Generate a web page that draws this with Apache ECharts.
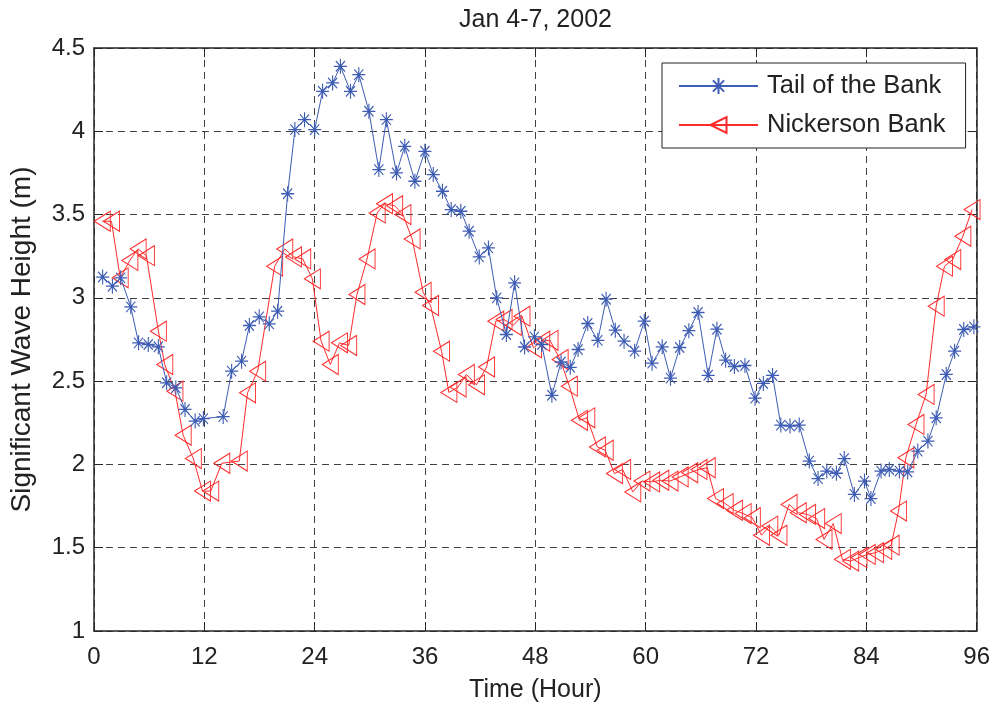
<!DOCTYPE html>
<html>
<head>
<meta charset="utf-8">
<script src="https://cdn.jsdelivr.net/npm/echarts@6/dist/echarts.min.js"></script>
<style>
html,body{margin:0;padding:0;background:#fff;}
#chart{width:993px;height:708px;}
</style>
</head>
<body>
<div id="chart"></div>
<script>
// ---- data ----
const titleText = "Jan 4-7, 2002";
const xAxisName = "Time (Hour)";
const yAxisName = "Significant Wave Height (m)";
const seriesNames = ["Tail of the Bank", "Nickerson Bank"];

const tailHours = [0.94,2.0,2.9,4.0,4.85,5.9,7.0,7.9,8.9,9.9,11.0,11.9,14.05,14.97,16.05,16.9,17.97,19.06,19.97,21.06,21.85,22.9,24.0,24.86,25.95,26.8,27.9,28.8,29.9,30.98,31.8,32.9,33.8,34.9,35.99,36.9,37.9,38.85,39.9,40.8,41.9,42.9,43.8,44.85,45.75,46.83,47.9,48.7,49.8,50.8,51.8,52.65,53.7,54.8,55.7,56.7,57.65,58.8,59.85,60.7,61.8,62.7,63.7,64.7,65.7,66.8,67.75,68.7,69.65,70.8,71.9,72.8,73.8,74.7,75.7,76.7,77.8,78.75,79.7,80.75,81.6,82.7,83.8,84.5,85.6,86.5,87.6,88.5,89.6,90.7,91.6,92.7,93.6,94.6,95.7];
const tailHeights = [3.125,3.07,3.12,2.946,2.73,2.72,2.706,2.49,2.46,2.33,2.26,2.275,2.287,2.56,2.62,2.834,2.886,2.844,2.92,3.625,4.01,4.07,4.01,4.24,4.29,4.39,4.24,4.34,4.12,3.77,4.07,3.75,3.91,3.70,3.88,3.74,3.64,3.53,3.52,3.40,3.246,3.30,3.00,2.78,3.09,2.705,2.766,2.72,2.415,2.615,2.583,2.69,2.846,2.745,2.992,2.806,2.74,2.68,2.86,2.608,2.706,2.518,2.702,2.803,2.912,2.535,2.812,2.626,2.588,2.594,2.398,2.486,2.534,2.236,2.23,2.236,2.02,1.915,1.96,1.947,2.035,1.82,1.90,1.795,1.96,1.97,1.96,1.955,2.08,2.14,2.28,2.54,2.68,2.81,2.826];

const nickHours = [0.9,1.9,2.85,3.9,4.8,5.7,7.0,7.7,8.8,9.7,10.8,11.8,12.7,13.9,15.8,16.7,17.8,19.65,20.75,21.7,22.7,23.75,24.7,25.7,26.7,27.7,28.6,29.7,30.8,31.6,32.7,33.6,34.6,35.8,36.6,37.8,38.6,39.6,40.5,41.6,42.7,43.7,44.6,45.6,46.55,47.8,48.7,49.6,50.7,51.7,52.8,53.6,54.75,55.6,56.6,57.5,58.6,59.6,60.65,61.65,62.65,63.75,64.8,65.8,66.7,67.6,68.65,69.65,70.6,71.6,72.6,73.5,74.5,75.6,76.6,77.6,78.6,79.4,80.4,81.4,82.3,83.2,84.1,85.0,85.9,86.7,87.5,88.3,89.4,90.5,91.6,92.5,93.4,94.5,95.5];
const nickHeights = [3.46,3.46,3.12,3.225,3.294,3.253,2.80,2.60,2.44,2.175,2.035,1.84,1.84,2.007,2.02,2.43,2.56,3.19,3.294,3.246,3.234,3.114,2.74,2.60,2.73,2.714,3.02,3.234,3.51,3.565,3.553,3.50,3.354,3.033,2.954,2.68,2.432,2.465,2.54,2.478,2.585,2.86,2.87,2.835,2.89,2.70,2.74,2.745,2.63,2.47,2.265,2.28,2.105,2.085,1.945,1.97,1.835,1.90,1.895,1.905,1.90,1.925,1.95,1.97,1.98,1.795,1.765,1.725,1.705,1.68,1.575,1.63,1.575,1.76,1.71,1.70,1.675,1.55,1.645,1.43,1.42,1.44,1.46,1.47,1.49,1.515,1.72,2.04,2.24,2.42,2.95,3.19,3.23,3.37,3.53];

const xTicks = {min: 0, max: 96, step: 12};
const yTicks = {min: 1, max: 4.5, step: 0.5};

// ---- chart ----
const FONT = "'Liberation Sans', Arial, Helvetica, sans-serif";
const TXT = '#222';
const BLUE = '#3d5cb4';
const RED = '#ff2b2b';
const AX = '#262626';

const pairs = (xs, ys) => xs.map((x, i) => [x, ys[i]]);

const axisCommon = {
  axisLine: {show: true, onZero: false, lineStyle: {color: AX, width: 1.5}},
  axisTick: {show: true, inside: true, length: 9, lineStyle: {color: AX, width: 1}},
};

const chart = echarts.init(document.getElementById('chart'), null, {renderer: 'canvas'});
chart.setOption({
  animation: false,
  backgroundColor: '#fff',
  textStyle: {fontFamily: FONT},
  title: {
    text: titleText,
    left: 535.5,
    textAlign: 'center',
    top: 8,
    padding: 0,
    textStyle: {fontSize: 25, fontWeight: 'normal', color: TXT, fontFamily: FONT}
  },
  grid: {left: 94, right: 16, top: 48, bottom: 76, containLabel: false},
  legend: {
    orient: 'vertical',
    left: 662,
    top: 63,
    itemWidth: 79,
    itemHeight: 20,
    itemGap: 13,
    padding: [10, 20, 10, 16],
    borderColor: '#222',
    borderWidth: 1,
    backgroundColor: '#fff',
    textStyle: {fontSize: 25.5, color: TXT, fontFamily: FONT, padding: [0, 0, 0, 4]},
    data: seriesNames
  },
  xAxis: [
    Object.assign({}, axisCommon, {
      type: 'value', position: 'bottom',
      min: xTicks.min, max: xTicks.max, interval: xTicks.step,
      name: xAxisName, nameLocation: 'middle', nameGap: 47,
      nameTextStyle: {fontSize: 25, color: TXT, fontFamily: FONT},
      axisLabel: {fontSize: 24, color: TXT, margin: 14, fontFamily: FONT},
      splitLine: {show: true, lineStyle: {type: [7, 5], color: '#404040', width: 1}}
    }),
    Object.assign({}, axisCommon, {
      type: 'value', position: 'top',
      min: xTicks.min, max: xTicks.max, interval: xTicks.step,
      axisLabel: {show: false}, splitLine: {show: false}
    })
  ],
  yAxis: [
    Object.assign({}, axisCommon, {
      type: 'value', position: 'left',
      min: yTicks.min, max: yTicks.max, interval: yTicks.step,
      name: yAxisName, nameLocation: 'middle', nameGap: 58,
      nameTextStyle: {fontSize: 28, color: TXT, fontFamily: FONT},
      axisLabel: {fontSize: 24, color: TXT, margin: 9, fontFamily: FONT},
      splitLine: {show: true, lineStyle: {type: [7, 5], color: '#404040', width: 1}}
    }),
    Object.assign({}, axisCommon, {
      type: 'value', position: 'right',
      min: yTicks.min, max: yTicks.max, interval: yTicks.step,
      axisLabel: {show: false}, splitLine: {show: false}
    })
  ],
  series: [
    {
      name: seriesNames[0],
      type: 'line',
      xAxisIndex: 0, yAxisIndex: 0,
      data: pairs(tailHours, tailHeights),
      symbol: 'path://M0,-10L0,10M-10,0L10,0M-7,-7L7,7M-7,7L7,-7',
      symbolSize: [13, 15],
      showAllSymbol: true,
      lineStyle: {color: BLUE, width: 1},
      itemStyle: {color: 'rgba(0,0,0,0)', borderColor: BLUE, borderWidth: 1.2},
      emphasis: {disabled: true},
      z: 3
    },
    {
      name: seriesNames[1],
      type: 'line',
      xAxisIndex: 0, yAxisIndex: 0,
      data: pairs(nickHours, nickHeights),
      symbol: 'path://M0,10L16,0L16,20Z',
      symbolSize: [16, 20],
      showAllSymbol: true,
      lineStyle: {color: RED, width: 1},
      itemStyle: {color: 'rgba(0,0,0,0)', borderColor: RED, borderWidth: 1},
      emphasis: {disabled: true},
      z: 2
    }
  ]
});
</script>
</body>
</html>
